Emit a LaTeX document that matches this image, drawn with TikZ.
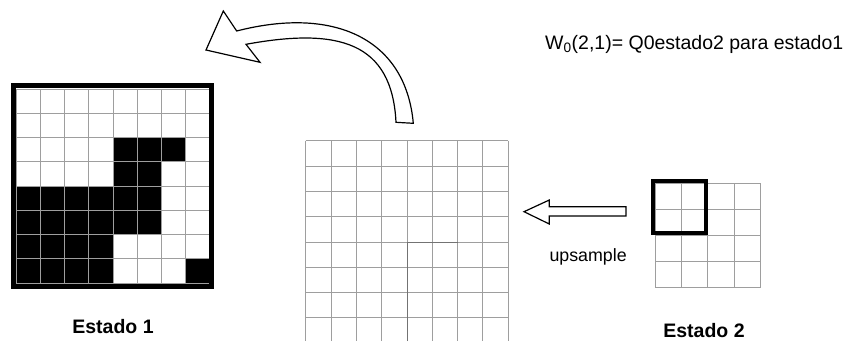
\documentclass[tikz,border=0pt]{standalone}
\usepackage{fontspec}
\setmainfont{Liberation Sans}
\begin{document}
\begin{tikzpicture}[x=1pt,y=-1pt,
  gridline/.style={draw=black!38,line width=0.8pt},
  darkline/.style={draw=black!55,line width=0.8pt},
  frame/.style={draw=black,line width=5pt},
  selbox/.style={draw=black,line width=4pt},
  blockarrow/.style={draw=black,fill=white,line width=1.2pt,line join=miter},
  lbl/.style={inner sep=0pt,font=\fontsize{19.5}{23}\selectfont},
  lblb/.style={inner sep=0pt,font=\fontsize{19.5}{23}\selectfont\bfseries}]
\useasboundingbox (0,0) rectangle (849,341);
% ---- Estado 1 grid ----
\def\ca{24.25}
\foreach \r/\c in {2/4,2/5,2/6,3/4,3/5,4/0,4/1,4/2,4/3,4/4,4/5,5/0,5/1,5/2,5/3,5/4,5/5,6/0,6/1,6/2,6/3,7/0,7/1,7/2,7/3,7/7}
  \fill[black] ({16+\c*\ca},{89+\r*\ca}) rectangle ++(\ca,\ca);
\foreach \i in {0,...,8} {
  \draw[gridline] ({16+\i*\ca},89) -- ({16+\i*\ca},283);
  \draw[gridline] (16,{89+\i*\ca}) -- (210,{89+\i*\ca});
}
\draw[frame] (13.8,85) rectangle (211.8,286);
\node[lblb,anchor=base] (e1) at (113,333.3) {Estado 1};
% ---- middle grid ----
\def\cb{25.3}
\foreach \i in {0,...,8}
  \draw[gridline] ({305.7+\i*\cb},140.7) -- ({305.7+\i*\cb},341);
\foreach \i in {0,...,7}
  \draw[gridline] (305.7,{140.7+\i*\cb}) -- (508.1,{140.7+\i*\cb});
\draw[darkline] (406.9,341) -- (406.9,241.9) -- (457.5,241.9);
% ---- Estado 2 grid ----
\def\cc{26.08}
\foreach \i in {0,...,4} {
  \draw[gridline] ({655.7+\i*\cc},183.3) -- ({655.7+\i*\cc},287.6);
  \draw[gridline] (655.7,{183.3+\i*\cc}) -- (760,{183.3+\i*\cc});
}
\draw[selbox] (653,181.3) rectangle (705.7,233);
\node[lblb,anchor=base] (e2) at (704,337) {Estado 2};
% ---- straight block arrow ----
\draw[blockarrow] (626,206.7) -- (549.3,206.7) -- (549.3,200) -- (524,211.7)
  -- (549.3,224) -- (549.3,216) -- (626,216) -- cycle;
\node[inner sep=0pt,anchor=base west,font=\fontsize{17.8}{21}\selectfont] (up) at (549.3,261.7) {upsample};
% ---- curved block arrow ----
\draw[blockarrow] (413.3,123.3) .. controls (405.7,38.3) and (333.7,6) .. (236.7,31)
  -- (223.3,11) -- (206,50) -- (260,62.3) -- (246,44.3)
  .. controls (339.1,27.2) and (392,42.3) .. (396,122.3) -- cycle;
% ---- formula ----
\node[lbl,anchor=base west] (w) at (545,49.3) {W\textsubscript{0}(2,1)= Q0estado2 para estado1};
\end{tikzpicture}
\end{document}
